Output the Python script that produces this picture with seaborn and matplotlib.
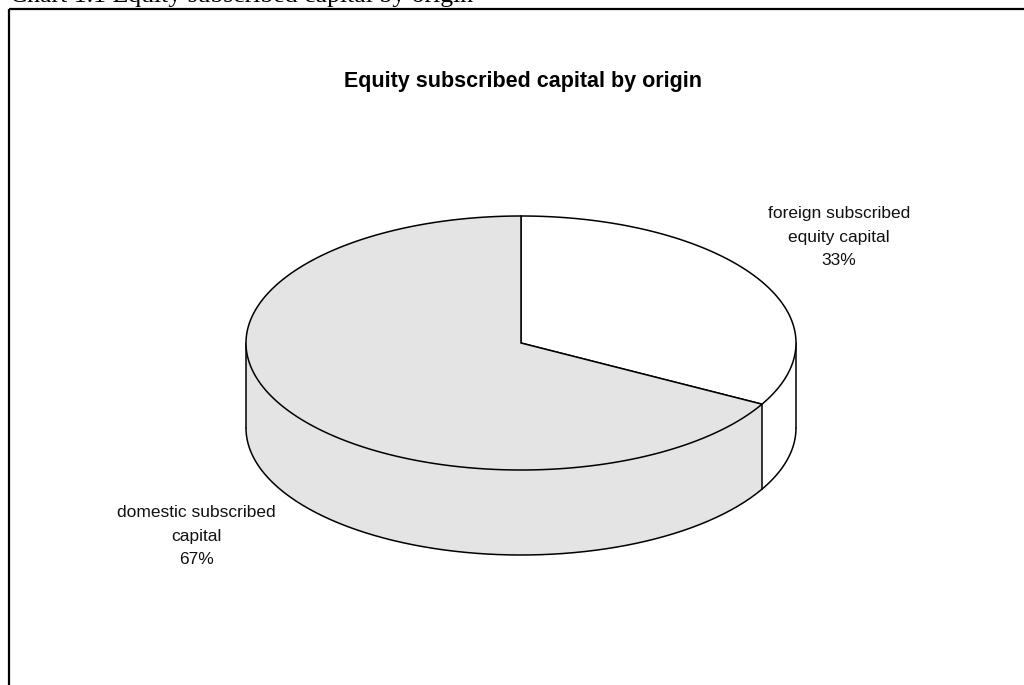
import numpy as np
import pandas as pd
import seaborn as sns
import matplotlib
matplotlib.use("Agg")
import matplotlib.pyplot as plt
from matplotlib.patches import Polygon, Rectangle

# ---- data ----
categories = ["foreign subscribed\nequity capital", "domestic subscribed\ncapital"]
values = [33, 67]
slice_colors = ["#ffffff", "#e4e4e4"]
title = "Equity subscribed capital by origin"
caption = "Chart 1.1 Equity subscribed capital by origin"

df = pd.DataFrame({"category": categories, "value": values, "color": slice_colors})

sns.set_theme(style="white")
plt.rcParams["font.family"] = ["Liberation Sans", "DejaVu Sans"]

W, H = 1024, 685
fig = plt.figure(figsize=(W / 100, H / 100), dpi=100)
ax = fig.add_axes([0, 0, 1, 1])
ax.set_xlim(0, W)
ax.set_ylim(H, 0)
ax.axis("off")

# geometry of the 3D pie (pixel space)
cx, cy = 521, 343
rx, ry = 275, 127
depth = 85
lw = 1.1


def pt(theta_deg, dz=0.0):
    t = np.deg2rad(theta_deg)
    return cx + rx * np.cos(t), cy - ry * np.sin(t) + dz


# slice angles: start at top (90 deg) and go clockwise
fracs = df["value"].to_numpy() / df["value"].sum()
starts = 90 - 360 * np.concatenate([[0], np.cumsum(fracs)[:-1]])
ends = starts - 360 * fracs

# side walls (front half: math angles -180..0)
for s, e, col in zip(starts, ends, df["color"]):
    lo, hi = e, s
    for shift in (0, -360, 360):
        a0 = max(lo + shift, -180)
        a1 = min(hi + shift, 0)
        if a1 > a0:
            th = np.linspace(a0, a1, 200)
            top = np.array([pt(t) for t in th])
            bot = np.array([pt(t, depth) for t in th[::-1]])
            poly = np.vstack([top, bot])
            ax.add_patch(Polygon(poly, closed=True, facecolor=col,
                                 edgecolor="none", zorder=1))
            ax.plot(bot[:, 0], bot[:, 1], color="black", lw=lw, zorder=3)

# vertical edges at extremes and at visible slice boundaries
for a in [0, -180] + [((b + 180) % 360) - 180 for b in starts]:
    if -180 <= a <= 0:
        x0, y0 = pt(a)
        ax.plot([x0, x0], [y0, y0 + depth], color="black", lw=lw, zorder=3)

# top face wedges
for s, e, col in zip(starts, ends, df["color"]):
    th = np.linspace(s, e, 400)
    arc = np.array([pt(t) for t in th])
    poly = np.vstack([[cx, cy], arc])
    ax.add_patch(Polygon(poly, closed=True, facecolor=col,
                         edgecolor="black", lw=lw, zorder=4,
                         joinstyle="miter"))

# labels
label_pos = [(839, 237), (196, 536)]
for (x, y), cat, v in zip(label_pos, df["category"], df["value"]):
    ax.text(x, y, f"{cat}\n{v}%", ha="center", va="center",
            fontsize=12.5, linespacing=1.68, color="#111111", zorder=5)

ax.text(523, 81, title, ha="center", va="center", fontsize=15.5,
        fontweight="bold", color="black")

# outer frame and caption
ax.add_patch(Rectangle((9, 9), W + 50, H + 50, fill=False,
                       edgecolor="black", lw=1.6, zorder=6))
ax.text(10, 2, caption, ha="left", va="baseline", fontsize=18.5,
        family=["Liberation Serif", "DejaVu Serif"], color="black")

fig.savefig("out.png", dpi=100)
